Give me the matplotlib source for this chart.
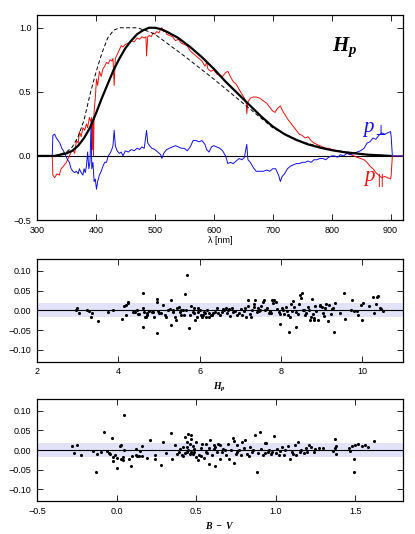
import numpy as np
import matplotlib
matplotlib.use("Agg")
import matplotlib.pyplot as plt

plt.rcParams['font.family'] = ['Liberation Sans', 'DejaVu Sans']
plt.rcParams['mathtext.fontset'] = 'custom'
plt.rcParams['mathtext.it'] = 'Liberation Serif:italic'
plt.rcParams['mathtext.bf'] = 'Liberation Serif:italic:bold'
plt.rcParams['mathtext.rm'] = 'Liberation Serif'

# ---------------- top panel data ----------------
hp_nm = [300, 330, 350, 360, 370, 380, 390, 400, 410, 420, 430, 440, 450, 460, 470, 480, 490,
         500, 510, 520, 540, 560, 580, 600, 620, 640, 660, 680, 700, 720, 740, 760, 780, 800,
         820, 840, 860, 880, 900]
hp_val = [0.0, 0.0, 0.02, 0.04, 0.08, 0.14, 0.22, 0.33, 0.45, 0.56, 0.67, 0.76, 0.84, 0.90, 0.95,
          0.98, 1.0, 1.0, 0.99, 0.97, 0.92, 0.85, 0.77, 0.68, 0.58, 0.49, 0.40, 0.31, 0.23, 0.17,
          0.125, 0.09, 0.065, 0.045, 0.03, 0.02, 0.01, 0.005, 0.0]

dash_nm = [330, 350, 360, 370, 380, 390, 400, 410, 420, 430, 440, 470, 490, 500, 550, 600, 650,
           700, 720, 750, 800, 850, 900]
dash_val = [0.0, 0.03, 0.07, 0.15, 0.28, 0.48, 0.65, 0.8, 0.92, 0.98, 1.0, 1.0, 0.97, 0.95, 0.78,
            0.6, 0.41, 0.22, 0.17, 0.11, 0.045, 0.015, 0.0]

red_nm = [300, 326, 327, 330, 334, 338, 341, 345, 350, 355, 358, 361, 364, 367, 370, 372, 375, 378,
          381, 384, 386, 389, 391, 393, 394, 395, 396, 397, 399, 401, 403, 406, 409, 412, 415, 418,
          421, 424, 427, 429, 431, 433, 436, 440, 443, 446, 450, 455, 460, 465, 470, 474, 478, 482,
          485, 486, 488, 491, 494, 497, 500, 503, 507, 510, 512, 515, 518, 520, 525, 530, 535, 540,
          545, 550, 555, 560, 565, 570, 575, 580, 585, 588, 590, 595, 600, 605, 610, 615, 620, 624,
          628, 633, 638, 643, 648, 652, 655, 656, 658, 662, 667, 672, 678, 684, 690, 695, 700, 704,
          708, 713, 717, 721, 725, 730, 735, 740, 745, 750, 755, 760, 765, 770, 775, 780, 785, 790,
          795, 800, 810, 815, 820, 826, 832, 838, 843, 849, 855, 860, 865, 870, 875, 880, 885, 890,
          895, 900, 901, 903, 920]
red_val = [0, 0, -0.15, -0.17, -0.14, -0.15, -0.1, -0.08, -0.05, 0.0, 0.03, 0.05, 0.02, 0.12, 0.1,
           0.19, 0.15, 0.22, 0.2, 0.25, 0.22, 0.3, 0.27, 0.3, 0.05, 0.28, 0.0, 0.35, 0.45, 0.6, 0.55,
           0.66, 0.62, 0.68, 0.7, 0.73, 0.72, 0.75, 0.74, 0.76, 0.55, 0.76, 0.79, 0.83, 0.86, 0.85,
           0.87, 0.88, 0.9, 0.89, 0.92, 0.91, 0.93, 0.92, 0.93, 0.78, 0.93, 0.94, 0.93, 0.96, 0.95,
           0.97, 0.96, 0.99, 1.0, 0.97, 0.98, 0.95, 0.94, 0.93, 0.9, 0.91, 0.88, 0.87, 0.86, 0.82,
           0.8, 0.78, 0.76, 0.74, 0.7, 0.73, 0.68, 0.66, 0.67, 0.64, 0.63, 0.62, 0.65, 0.66, 0.62,
           0.58, 0.56, 0.52, 0.48, 0.45, 0.42, 0.33, 0.42, 0.45, 0.46, 0.46, 0.45, 0.43, 0.41, 0.38,
           0.35, 0.34, 0.37, 0.39, 0.35, 0.32, 0.29, 0.26, 0.23, 0.2, 0.17, 0.16, 0.14, 0.15, 0.12,
           0.1, 0.09, 0.08, 0.07, 0.06, 0.06, 0.05, 0.04, 0.04, 0.03, 0.02, 0.01, 0.0, -0.01, -0.02,
           -0.03, -0.05, -0.08, -0.1, -0.13, -0.15, -0.17, -0.16, -0.17, -0.18, -0.15, 0.0, 0.0]

blue_nm = [300, 326, 327, 330, 333, 336, 339, 342, 345, 348, 352, 355, 358, 361, 364, 367, 370, 372,
           375, 378, 380, 382, 384, 386, 388, 390, 392, 393, 395, 397, 399, 401, 403, 406, 409, 412,
           415, 418, 421, 424, 427, 429, 431, 433, 436, 440, 443, 446, 450, 455, 460, 465, 470, 474,
           478, 482, 486, 488, 491, 495, 500, 505, 510, 512, 515, 520, 525, 530, 535, 540, 545, 550,
           555, 560, 565, 570, 575, 580, 585, 588, 592, 596, 600, 605, 610, 615, 620, 624, 628, 633,
           638, 643, 648, 652, 656, 658, 662, 667, 672, 678, 684, 690, 695, 700, 705, 710, 713, 716,
           720, 725, 730, 735, 740, 745, 750, 755, 760, 765, 770, 775, 780, 785, 790, 795, 800, 805,
           810, 815, 820, 826, 832, 838, 843, 849, 855, 860, 865, 870, 875, 880, 885, 890, 895, 900,
           901, 903, 920]
blue_val = [0, 0, 0.16, 0.17, 0.14, 0.12, 0.1, 0.06, 0.04, 0.01, -0.03, -0.05, -0.1, -0.12, -0.13,
            -0.12, -0.14, -0.1, -0.13, -0.15, -0.1, -0.13, -0.08, 0.03, -0.1, -0.05, 0.27, -0.1,
            -0.05, -0.2, -0.18, -0.26, -0.2, -0.15, -0.12, -0.08, -0.05, -0.05, 0.0, 0.02, 0.05,
            0.08, 0.2, 0.08, 0.04, 0.02, 0.03, 0.0, 0.04, 0.03, 0.05, 0.04, 0.06, 0.05, 0.07, 0.06,
            0.2, 0.1, 0.08, 0.06, 0.05, 0.03, 0.01, -0.02, 0.02, 0.05, 0.06, 0.07, 0.08, 0.07, 0.06,
            0.06, 0.04, 0.07, 0.12, 0.12, 0.11, 0.12, 0.09, 0.05, 0.03, 0.07, 0.08, 0.07, 0.06, 0.04,
            0.0, -0.06, -0.05, -0.06, -0.04, -0.02, -0.03, -0.01, 0.09, -0.03, -0.05, -0.09, -0.12,
            -0.12, -0.12, -0.11, -0.12, -0.1, -0.1, -0.15, -0.2, -0.16, -0.14, -0.1, -0.08, -0.07,
            -0.06, -0.06, -0.05, -0.05, -0.04, -0.05, -0.03, -0.03, -0.02, -0.02, -0.03, -0.01, 0.0,
            0.0, -0.01, 0.01, 0.0, 0.02, 0.01, 0.02, 0.03, 0.04, 0.06, 0.1, 0.11, 0.14, 0.13, 0.16,
            0.18, 0.17, 0.18, 0.19, 0.15, 0.0, 0.0]

# ---------------- middle panel data (residual vs Hp) ----------------
hp_mag = [2.95, 2.99, 3.04, 3.23, 3.28, 3.33, 3.36, 3.50, 3.75, 3.87, 4.10, 4.14, 4.19, 4.20, 4.24,
          4.25, 4.35, 4.40, 4.45, 4.49, 4.52, 4.60, 4.60, 4.61, 4.63, 4.66, 4.68, 4.70, 4.71, 4.76,
          4.82, 4.86, 4.89, 4.94, 4.94, 4.96, 4.98, 5.01, 5.04, 5.11, 5.14, 5.17, 5.23, 5.27, 5.29,
          5.30, 5.34, 5.35, 5.39, 5.42, 5.44, 5.50, 5.52, 5.53, 5.55, 5.58, 5.62, 5.65, 5.67, 5.70,
          5.73, 5.76, 5.78, 5.83, 5.85, 5.86, 5.89, 5.93, 5.95, 5.96, 6.00, 6.03, 6.06, 6.09, 6.11,
          6.13, 6.16, 6.18, 6.22, 6.24, 6.27, 6.31, 6.34, 6.38, 6.42, 6.46, 6.50, 6.54, 6.57, 6.60,
          6.65, 6.67, 6.70, 6.73, 6.75, 6.79, 6.83, 6.87, 6.93, 6.96, 7.01, 7.05, 7.08, 7.12, 7.15,
          7.18, 7.20, 7.23, 7.26, 7.29, 7.33, 7.34, 7.37, 7.41, 7.43, 7.46, 7.49, 7.52, 7.56, 7.59,
          7.61, 7.66, 7.70, 7.72, 7.75, 7.78, 7.80, 7.84, 7.87, 7.90, 7.94, 7.97, 7.98, 8.03, 8.05,
          8.08, 8.12, 8.15, 8.18, 8.21, 8.23, 8.25, 8.27, 8.30, 8.33, 8.36, 8.38, 8.43, 8.45, 8.48,
          8.49, 8.51, 8.53, 8.56, 8.59, 8.62, 8.66, 8.69, 8.72, 8.74, 8.76, 8.78, 8.81, 8.82, 8.84,
          8.87, 8.90, 8.95, 8.97, 9.00, 9.04, 9.05, 9.09, 9.11, 9.15, 9.19, 9.22, 9.25, 9.27, 9.30,
          9.33, 9.45, 9.56, 9.58, 9.73, 9.75, 9.79, 9.86, 9.89, 9.96, 10.00, 10.02, 10.16, 10.27,
          10.30, 10.33, 10.37, 10.39, 10.43, 10.47, 10.50]
res_hp = [0.0, 0.007, -0.007, 0.0, -0.002, -0.017, -0.007, -0.028, -0.003, 0.002, -0.023, 0.011,
          -0.013, 0.013, 0.021, 0.019, -0.003, -0.005, 0.002, -0.010, -0.010, 0.045, 0.007, -0.041,
          -0.004, -0.017, -0.017, -0.013, -0.007, -0.002, -0.004, -0.004, -0.017, 0.028, 0.021,
          -0.057, -0.002, -0.008, -0.007, 0.013, -0.013, -0.017, 0.002, 0.004, -0.036, 0.025,
          -0.004, 0.0, -0.017, -0.024, 0.007, 0.008, -0.004, -0.013, 0.002, 0.0, -0.013, 0.042,
          0.0, 0.089, -0.044, -0.013, 0.010, -0.003, 0.006, -0.008, -0.024, -0.017, -0.004, 0.007,
          0.0, -0.011, -0.017, -0.013, -0.003, -0.008, -0.017, 0.0, -0.007, -0.017, -0.011, -0.013,
          -0.008, -0.003, 0.007, -0.008, -0.013, -0.004, 0.003, 0.002, 0.007, -0.007, 0.0, 0.004,
          -0.015, 0.006, -0.004, -0.002, -0.013, -0.007, 0.004, -0.013, -0.002, 0.007, -0.017,
          0.010, 0.027, -0.010, -0.017, 0.0, 0.008, 0.017, 0.025, -0.004, 0.007, -0.002, 0.002,
          0.010, 0.020, 0.025, 0.0, 0.007, -0.008, -0.002, -0.007, 0.025, 0.019, 0.025, 0.020,
          0.004, -0.004, -0.034, -0.010, 0.007, 0.0, -0.010, 0.008, -0.002, -0.013, -0.055, -0.017,
          0.017, -0.002, 0.024, 0.008, -0.041, -0.004, -0.010, 0.015, 0.038, 0.031, 0.044, 0.0,
          0.002, -0.013, -0.008, 0.008, 0.0, -0.025, -0.017, 0.029, -0.010, -0.025, -0.019, 0.010,
          -0.002, -0.024, 0.013, 0.010, 0.008, -0.008, -0.015, 0.007, 0.017, -0.027, 0.013, -0.010,
          0.004, 0.007, -0.055, 0.019, -0.007, 0.044, -0.022, 0.002, 0.025, -0.002, -0.002, -0.012,
          0.013, -0.025, 0.019, 0.011, 0.034, -0.007, 0.017, 0.034, 0.037, 0.007, 0.004, -0.002]

# ---------------- bottom panel data (residual vs B-V) ----------------
bv = [-0.28, -0.27, -0.25, -0.22, -0.15, -0.13, -0.12, -0.10, -0.08, -0.06, -0.05, -0.04, -0.03,
      -0.02, -0.02, -0.01, 0.00, 0.00,
      0.02, 0.03, 0.03, 0.04, 0.04, 0.05, 0.05, 0.08, 0.09, 0.10, 0.12, 0.12, 0.13, 0.14, 0.15,
      0.16, 0.16, 0.19,
      0.21, 0.24, 0.24, 0.28, 0.29, 0.31, 0.34, 0.35, 0.37, 0.38, 0.39,
      0.40, 0.41, 0.42, 0.42, 0.43, 0.43, 0.44, 0.44, 0.44, 0.45, 0.45, 0.46, 0.46, 0.47, 0.47,
      0.47, 0.48, 0.48, 0.49, 0.49, 0.50, 0.50, 0.51, 0.52, 0.53, 0.53, 0.54, 0.55, 0.56, 0.56,
      0.57, 0.58, 0.58, 0.59, 0.60, 0.61, 0.61, 0.62, 0.62, 0.63, 0.64, 0.65, 0.65,
      0.66, 0.67, 0.68, 0.69, 0.70, 0.71, 0.72, 0.73, 0.74, 0.74, 0.75, 0.76, 0.76, 0.77, 0.78,
      0.79, 0.80, 0.81, 0.82, 0.83, 0.84, 0.85, 0.86, 0.87, 0.88, 0.89, 0.90, 0.91, 0.92, 0.93,
      0.93, 0.94, 0.95, 0.96, 0.97, 0.98, 0.99, 1.00,
      1.01, 1.02, 1.03, 1.04, 1.05, 1.06, 1.08, 1.09, 1.10, 1.11, 1.12, 1.13, 1.14, 1.15, 1.16,
      1.18, 1.19, 1.20, 1.21, 1.22, 1.24, 1.25, 1.27, 1.30,
      1.36, 1.37, 1.37, 1.38, 1.38, 1.46, 1.47, 1.48, 1.49, 1.49, 1.50, 1.52, 1.54, 1.56, 1.58,
      1.62]
res_bv = [0.011, -0.007, 0.012, -0.014, -0.002, -0.055, -0.010, -0.006, 0.045, -0.002, -0.008,
          -0.010, 0.030, -0.018, -0.028, -0.012, -0.045, -0.020,
          0.010, 0.013, -0.022, -0.025, -0.018, 0.088, 0.000, -0.022, -0.040, -0.015, -0.013,
          0.003, -0.015, -0.016, -0.003, 0.010, -0.016, -0.020,
          0.025, -0.012, -0.022, -0.037, 0.020, -0.008, 0.044, -0.022, 0.012, -0.010, -0.005,
          0.002, -0.012, 0.008, -0.015, -0.008, 0.034, 0.020, -0.006, 0.008, 0.042, 0.000, -0.010,
          0.015, 0.038, 0.028, -0.005, 0.010, -0.010, 0.002, -0.004, 0.020, -0.018, -0.025,
          -0.012, 0.005, -0.015, 0.015, -0.020, 0.016, -0.004, -0.008, -0.035, 0.004, 0.025,
          -0.012, 0.002, 0.012, -0.040, 0.008, -0.005, 0.015, -0.022, 0.014,
          -0.004, 0.003, 0.000, -0.012, 0.015, -0.022, 0.000, 0.031, -0.034, 0.022, -0.010,
          -0.005, 0.012, 0.000, -0.012, 0.020, 0.005, 0.025, -0.010, -0.016, 0.008, -0.005,
          0.000, 0.038, -0.055, -0.008, 0.045, 0.002, -0.012, 0.018, -0.008, 0.018, -0.005,
          0.000, -0.010, -0.004, 0.035, -0.008,
          0.002, -0.012, -0.002, 0.008, -0.012, 0.000, 0.010, -0.022, -0.005, -0.010, 0.012,
          -0.012, 0.020, -0.005, 0.000, -0.008, 0.005, -0.004, 0.012, 0.008, -0.004, 0.002,
          0.004, 0.005,
          -0.002, 0.027, 0.004, -0.010, 0.010, 0.005, -0.002, 0.010, -0.022, -0.057, 0.013,
          0.015, 0.010, 0.012, 0.008, 0.022]

band = 0.018

fig = plt.figure(figsize=(4.15, 5.34), dpi=100)
ax1 = fig.add_axes([0.089, 0.588, 0.882, 0.384])
ax2 = fig.add_axes([0.089, 0.3227, 0.882, 0.1923])
ax3 = fig.add_axes([0.089, 0.0618, 0.882, 0.191])

def style(ax):
    ax.tick_params(direction='in', top=True, right=True, length=4, width=0.6,
                   labelsize=6.5, pad=4)
    for s in ax.spines.values():
        s.set_linewidth(0.9)

ax1.axhline(0, color='black', lw=0.8, zorder=1)
ax1.plot(red_nm, red_val, color='#e8120c', lw=0.7, zorder=3)
ax1.plot(blue_nm, blue_val, color='#1010e0', lw=0.7, zorder=3)
ax1.plot(dash_nm, dash_val, color='black', lw=0.7, ls=(0, (4, 2.5)), zorder=4)
ax1.plot(hp_nm, hp_val, color='black', lw=1.6, zorder=5)
ax1.set_xlim(300, 921)
ax1.set_ylim(-0.5, 1.1)
ax1.set_xticks([300, 400, 500, 600, 700, 800, 900])
ax1.set_yticks([-0.5, 0.0, 0.5, 1.0])
ax1.set_yticklabels(['\u22120.5', '0.0', '0.5', '1.0'])
ax1.set_xlabel('\u03bb [nm]', fontsize=6.5, labelpad=1)
ax1.text(822, 0.85, r'$\mathbf{H_p}$', fontsize=15, ha='center', va='center')
ax1.text(872, 0.21, r'$p_{\perp}$', fontsize=15, color='#1010e0', ha='center', va='center')
ax1.text(872, -0.19, r'$p_{\parallel}$', fontsize=15, color='#e8120c', ha='center', va='center')
style(ax1)

for ax, xs, ys in [(ax2, hp_mag, res_hp), (ax3, bv, res_bv)]:
    ax.axhspan(-band, band, color='#e2e2f8', lw=0, zorder=0)
    ax.axhline(0, color='black', lw=0.8, zorder=1)
    ax.scatter(xs, ys, s=5, color='black', lw=0, zorder=3)
    ax.set_ylim(-0.13, 0.13)
    ax.set_yticks([-0.10, -0.05, 0.0, 0.05, 0.10])
    ax.set_yticklabels(['\u22120.10', '\u22120.05', '0.00', '0.05', '0.10'])
    style(ax)

ax2.set_xlim(2, 11)
ax2.set_xticks([2, 4, 6, 8, 10])
ax2.set_xlabel(r'$\mathbf{H_p}$', fontsize=7, labelpad=3)

ax3.set_xlim(-0.5, 1.8)
ax3.set_xticks([-0.5, 0.0, 0.5, 1.0, 1.5])
ax3.set_xticklabels(['\u22120.5', '0.0', '0.5', '1.0', '1.5'])
ax3.set_xlabel(r'$\mathbf{B\ -\ V}$', fontsize=7, labelpad=3)

fig.savefig('out.png', dpi=100)
